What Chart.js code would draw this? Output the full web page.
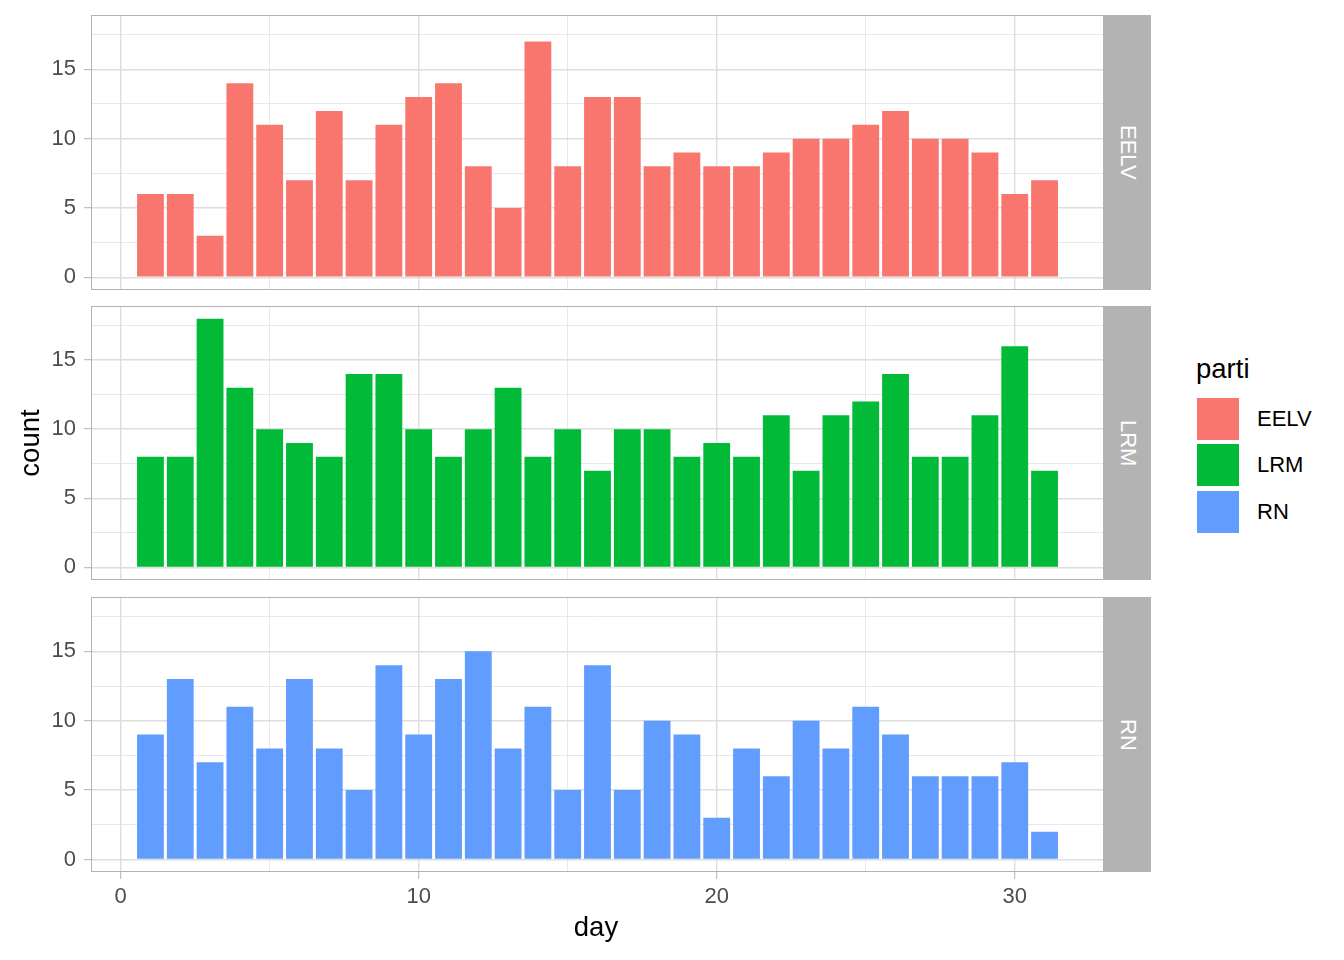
<!DOCTYPE html>
<html>
<head>
<meta charset="utf-8">
<script src="https://cdn.jsdelivr.net/npm/chart.js@4/dist/chart.umd.min.js"></script>
<style>
  html, body { margin: 0; padding: 0; background: #fff; }
  body { width: 1344px; height: 960px; position: relative; overflow: hidden; font-family: "Liberation Sans", Arial, sans-serif; }
  .cv { position: absolute; left: 0; }
  .strip { position: absolute; left: 1104px; width: 47px; background: #b3b3b3; color: #fff; font-size: 22px;
           display: flex; align-items: center; justify-content: center; }
  .strip span { writing-mode: vertical-rl; }
  .title { position: absolute; color: #000; font-size: 27.5px; line-height: 28px; white-space: nowrap; }
  .key { position: absolute; left: 1197px; width: 42px; height: 42px; }
  .klab { position: absolute; left: 1257px; font-size: 22px; height: 42px; display: flex; align-items: center; color: #000; }
</style>
</head>
<body>
<canvas id="c1" class="cv" width="1110" height="300" style="top:0px"></canvas>
<canvas id="c2" class="cv" width="1110" height="300" style="top:296px"></canvas>
<canvas id="c3" class="cv" width="1110" height="380" style="top:587px"></canvas>

<div class="strip" style="top:15px;height:275px"><span>EELV</span></div>
<div class="strip" style="top:306px;height:274px"><span>LRM</span></div>
<div class="strip" style="top:597px;height:275px"><span>RN</span></div>

<div class="title" style="left:-10px;top:429px;transform:rotate(-90deg);transform-origin:center;width:80px;text-align:center;">count</div>
<div class="title" style="left:556px;top:913px;width:80px;text-align:center;">day</div>

<div class="title" style="left:1196px;top:355px;">parti</div>
<div class="key" style="top:398px;background:#F8766D"></div>
<div class="klab" style="top:398px">EELV</div>
<div class="key" style="top:444px;background:#00BA38"></div>
<div class="klab" style="top:444px">LRM</div>
<div class="key" style="top:491px;background:#619CFF"></div>
<div class="klab" style="top:491px">RN</div>

<script>
const days = [1,2,3,4,5,6,7,8,9,10,11,12,13,14,15,16,17,18,19,20,21,22,23,24,25,26,27,28,29,30,31];
const eelv = [6,6,3,14,11,7,12,7,11,13,14,8,5,17,8,13,13,8,9,8,8,9,10,10,11,12,10,10,9,6,7];
const lrm  = [8,8,18,13,10,9,8,14,14,10,8,10,13,8,10,7,10,10,8,9,8,11,7,11,12,14,8,8,11,16,7];
const rn   = [9,13,7,11,8,13,8,5,14,9,13,15,8,11,5,14,5,10,9,3,8,6,10,8,11,9,6,6,6,7,2];
const partis = ["EELV","LRM","RN"];
const colors = ["#F8766D","#00BA38","#619CFF"];
const yTickValues = [0,2.5,5,7.5,10,12.5,15,17.5];
const xTickValues = [0,5,10,15,20,25,30];
const yMajorStep = 5, xMajorStep = 10;

const FONT = "'Liberation Sans', Arial, sans-serif";

const borderPlugin = {
  id: 'panelBorder',
  afterDatasetsDraw(chart) {
    const a = chart.chartArea, ctx = chart.ctx;
    ctx.save();
    ctx.strokeStyle = '#b3b3b3';
    ctx.lineWidth = 1;
    ctx.strokeRect(Math.round(a.left) + 0.5, Math.round(a.top) + 0.5,
                   Math.round(a.right - a.left) - 1, Math.round(a.bottom - a.top) - 1);
    ctx.restore();
  }
};

function config(values, idx, bottomH, showX) {
  const isMajor = (v, step) => Math.abs(v / step - Math.round(v / step)) < 1e-9;
  return {
    type: 'bar',
    data: {
      datasets: [{
        label: partis[idx],
        data: days.map((d, i) => ({x: d, y: values[i]})),
        backgroundColor: colors[idx],
        borderWidth: 0,
        barPercentage: 0.9,
        categoryPercentage: 1.0
      }]
    },
    options: {
      responsive: false,
      animation: false,
      devicePixelRatio: 1,
      layout: { autoPadding: false, padding: { top: 10, right: 6, bottom: 0, left: 0 } },
      plugins: { legend: { display: false }, tooltip: { enabled: false } },
      scales: {
        x: {
          type: 'linear',
          offset: false,
          min: -0.995, max: 32.995,
          afterBuildTicks: s => { s.ticks = xTickValues.map(v => ({value: v})); },
          afterFit: s => { s.height = bottomH; },
          border: { display: false },
          grid: {
            offset: false,
            color: '#dedede',
            lineWidth: c => (c.tick && isMajor(c.tick.value, xMajorStep)) ? 1.4 : 0.7,
            drawTicks: showX,
            tickLength: 7,
            tickWidth: 1,
            tickColor: c => (c.tick && isMajor(c.tick.value, xMajorStep)) ? '#b3b3b3' : 'rgba(0,0,0,0)'
          },
          ticks: {
            display: showX,
            autoSkip: false,
            maxRotation: 0,
            padding: 5,
            color: '#4d4d4d',
            font: { family: FONT, size: 22 },
            callback: v => isMajor(v, xMajorStep) ? String(v) : ''
          }
        },
        y: {
          min: -0.9, max: 18.9,
          afterBuildTicks: s => { s.ticks = yTickValues.map(v => ({value: v})); },
          afterFit: s => { s.width = 91; },
          border: { display: false },
          grid: {
            color: '#dedede',
            lineWidth: c => (c.tick && isMajor(c.tick.value, yMajorStep)) ? 1.4 : 0.7,
            drawTicks: true,
            tickLength: 7,
            tickWidth: 1,
            tickColor: c => (c.tick && isMajor(c.tick.value, yMajorStep)) ? '#b3b3b3' : 'rgba(0,0,0,0)'
          },
          ticks: {
            autoSkip: false,
            padding: 8,
            color: '#4d4d4d',
            font: { family: FONT, size: 22 },
            callback: v => isMajor(v, yMajorStep) ? String(v) : ''
          }
        }
      }
    },
    plugins: [borderPlugin]
  };
}

// Build a panel so that its plot area lands exactly on [panelTop, panelBottom]
function makePanel(id, values, idx, panelTop, panelBottom, bottomH, showX) {
  const canvas = document.getElementById(id);
  let chart = new Chart(canvas, config(values, idx, bottomH, showX));
  const a = chart.chartArea;
  const extraTop = a.top;
  const extraBottom = chart.height - a.bottom;
  chart.destroy();
  const h = Math.round(extraTop + (panelBottom - panelTop) + extraBottom);
  canvas.width = 1110;
  canvas.height = h;
  canvas.style.width = '1110px';
  canvas.style.height = h + 'px';
  canvas.style.top = Math.round(panelTop - extraTop) + 'px';
  return new Chart(canvas, config(values, idx, bottomH, showX));
}

makePanel('c1', eelv, 0, 15, 290, 10, false);
makePanel('c2', lrm, 1, 306, 580, 10, false);
makePanel('c3', rn, 2, 597, 872, 70, true);
</script>
</body>
</html>
